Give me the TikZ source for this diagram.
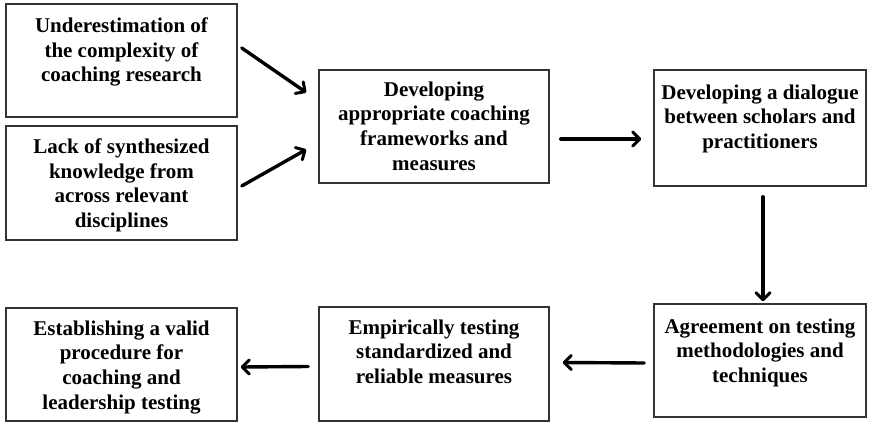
\documentclass[tikz,border=0pt]{standalone}
\usepackage{fontspec}
\setmainfont{Liberation Serif}
\usetikzlibrary{arrows.meta}
\begin{document}
\begin{tikzpicture}[x=1pt,y=-1pt,
  box/.style={draw=black!80,line width=1.5pt,rectangle,inner sep=0pt},
  label/.style={anchor=north,align=center,inner sep=0pt,
    font=\fontsize{21}{24.8}\selectfont\bfseries},
  flow/.style={line width=3.4pt,line cap=round,
    -{Straight Barb[length=7pt,width=14pt,line width=3pt,round]}}]
  \useasboundingbox (0,0) rectangle (880,422);

  % boxes: given by their corners, texts hung from the top edge
  \node[box,minimum width=231pt,minimum height=113pt] (b1) at (121.5,60.5) {};
  \node[box,minimum width=231pt,minimum height=114pt] (b2) at (121.5,183) {};
  \node[box,minimum width=230pt,minimum height=113pt] (b3) at (434,126.5) {};
  \node[box,minimum width=212pt,minimum height=116pt] (b4) at (760,128) {};
  \node[box,minimum width=212pt,minimum height=113pt] (b5) at (760,360.5) {};
  \node[box,minimum width=230pt,minimum height=114pt] (b6) at (434,364) {};
  \node[box,minimum width=231pt,minimum height=113pt] (b7) at (121.5,364.5) {};

  \node[label] (t1) at ([yshift=-14pt]b1.north) {Underestimation of\\the complexity of\\coaching research};
  \node[label] (t2) at ([yshift=-13pt]b2.north) {Lack of synthesized\\knowledge from\\across relevant\\disciplines};
  \node[label] (t3) at ([yshift=-12pt]b3.north) {Developing\\appropriate coaching\\frameworks and\\measures};
  \node[label] (t4) at ([yshift=-15pt]b4.north) {Developing a dialogue\\between scholars and\\practitioners};
  \node[label] (t5) at ([yshift=-15pt]b5.north) {Agreement on testing\\methodologies and\\techniques};
  \node[label] (t6) at ([yshift=-13pt]b6.north) {Empirically testing\\standardized and\\reliable measures};
  \node[label] (t7) at ([yshift=-13pt]b7.north) {Establishing a valid\\procedure for\\coaching and\\leadership testing};

  % connectors
  \draw[flow] ([shift={(4,-12.5)}]b1.east) -- ([shift={(-12,-34)}]b3.west);
  \draw[flow] ([shift={(4,3)}]b2.east) -- ([shift={(-12,23)}]b3.west);
  \draw[flow] ([shift={(11,12.5)}]b3.east) -- ([shift={(-12,11)}]b4.west);
  \draw[flow] ([shift={(3,10)}]b4.south) -- ([shift={(3,-2)}]b5.north);
  \draw[flow] ([shift={(-9,2.5)}]b5.west) -- ([shift={(13,-1.5)}]b6.east);
  \draw[flow] ([shift={(-10,2.5)}]b6.west) -- ([shift={(3,2.5)}]b7.east);
\end{tikzpicture}
\end{document}
